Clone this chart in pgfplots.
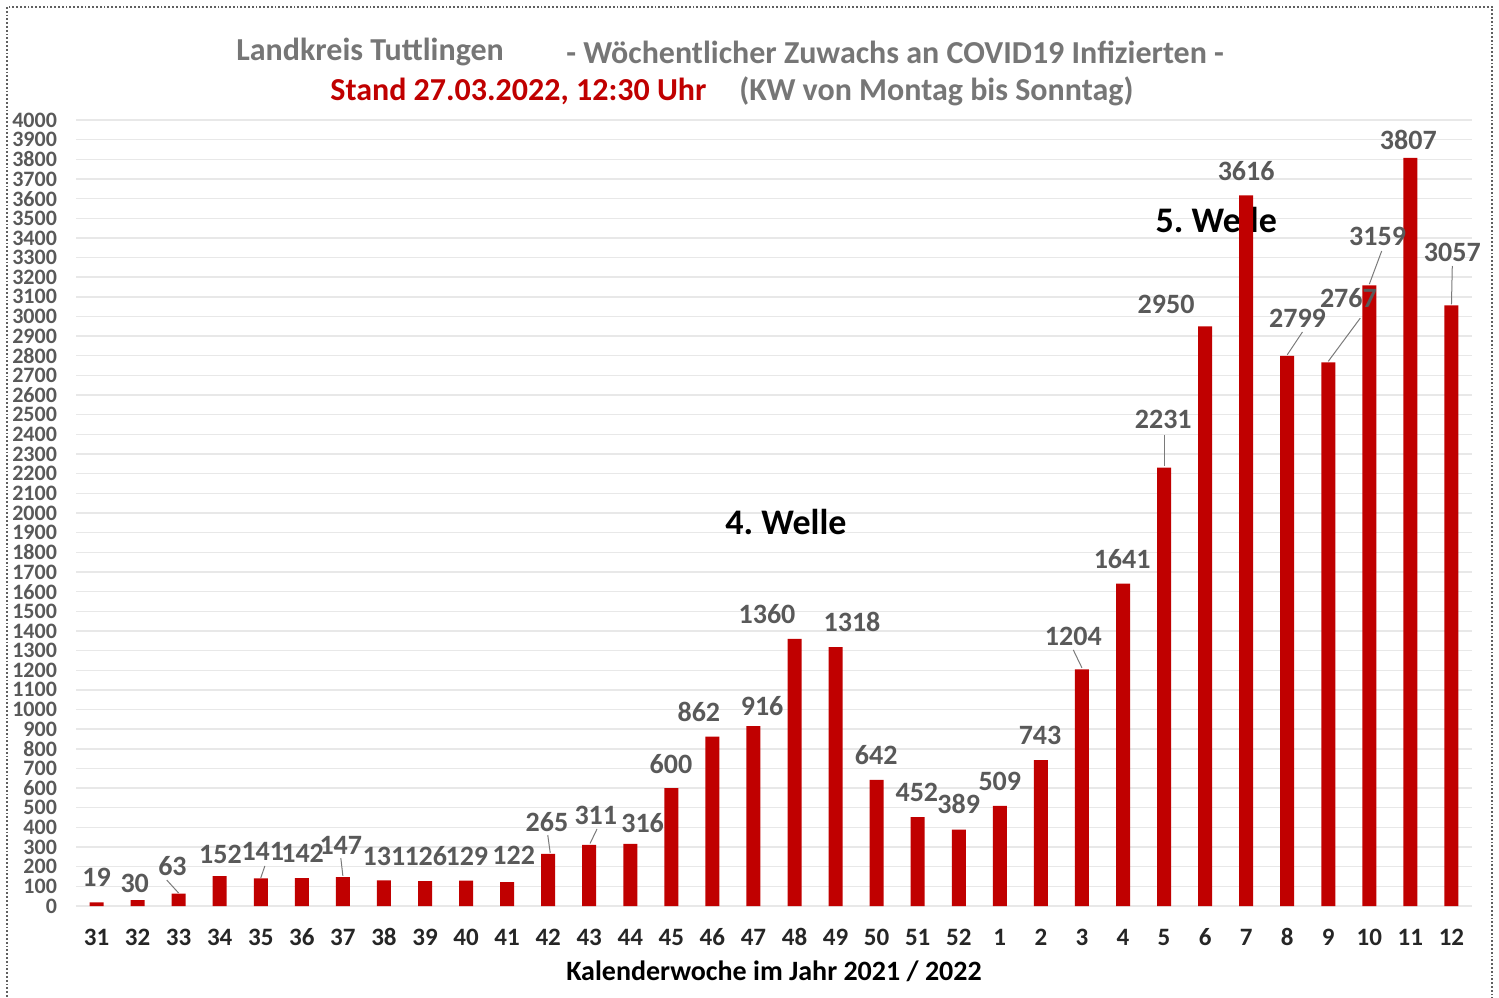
\documentclass[border=0pt]{standalone}
\usepackage{pgfplots}
\pgfplotsset{compat=1.18}
\usepackage{pgfplotstable}
\usepackage{fontspec}
\setmainfont{Carlito}
\definecolor{barred}{HTML}{C00000}
\definecolor{lblgray}{HTML}{595959}
\definecolor{ttlgray}{HTML}{767676}
\definecolor{gridgray}{HTML}{E8E8E8}
\definecolor{framegray}{HTML}{606060}

\pgfplotstableread{
idx value
0 19
1 30
2 63
3 152
4 141
5 142
6 147
7 131
8 126
9 129
10 122
11 265
12 311
13 316
14 600
15 862
16 916
17 1360
18 1318
19 642
20 452
21 389
22 509
23 743
24 1204
25 1641
26 2231
27 2950
28 3616
29 2799
30 2767
31 3159
32 3807
33 3057
}\weekdata

\begin{document}
\begin{tikzpicture}
\useasboundingbox (-38pt,-45.5pt) rectangle (711.5pt,453pt);
\draw[framegray, line width=0.9pt, densely dotted] (-34.5pt,449.5pt) rectangle (708pt,-60pt);
\begin{axis}[
  at={(0pt,0pt)}, anchor=south west,
  scale only axis, width=698pt, height=393pt,
  xmin=-0.5, xmax=33.5, ymin=0, ymax=4000,
  ytick={0,100,...,4000},
  xtick={0,1,...,33},
  xticklabels={31,32,33,34,35,36,37,38,39,40,41,42,43,44,45,46,47,48,49,50,51,52,1,2,3,4,5,6,7,8,9,10,11,12},
  ymajorgrids, grid style={gridgray, line width=0.7pt},
  axis lines*=left,
  x axis line style={gridgray, line width=0.8pt},
  y axis line style={draw=none},
  major tick length=0pt,
  yticklabel style={font=\fontsize{11}{11}\selectfont\bfseries, text=lblgray, xshift=-6pt},
  xticklabel style={font=\fontsize{12.5}{12.5}\selectfont\bfseries, text=black!85, anchor=north, text height=9pt, text depth=0pt, yshift=-7pt},
  /pgf/number format/assume math mode=true,
  /pgf/number format/1000 sep={},
  ybar, bar width=7pt,
  clip=false,
]
\node[font=\fontsize{18}{18}\selectfont\bfseries, text=black] at (axis cs:16.79,1954) {4.~Welle};
\node[font=\fontsize{18}{18}\selectfont\bfseries, text=black] at (axis cs:27.27,3491) {5.~Welle};
\addplot[fill=barred, draw=none] table[x=idx, y=value] {\weekdata};
% leader lines
\draw[lblgray!80, line width=0.5pt] (axis cs:1.71,132) -- (axis cs:2.0,66);
\draw[lblgray!80, line width=0.5pt] (axis cs:4.1,204) -- (axis cs:4.0,143);
\draw[lblgray!80, line width=0.5pt] (axis cs:5.95,244) -- (axis cs:6.0,153);
\draw[lblgray!80, line width=0.5pt] (axis cs:10.99,361) -- (axis cs:11.05,270);
\draw[lblgray!80, line width=0.5pt] (axis cs:12.19,392) -- (axis cs:12.02,318);
\draw[lblgray!80, line width=0.5pt] (axis cs:23.79,1303) -- (axis cs:24.0,1212);
\draw[lblgray!80, line width=0.5pt] (axis cs:26.0,2397) -- (axis cs:26.0,2238);
\draw[lblgray!80, line width=0.5pt] (axis cs:29.37,2921) -- (axis cs:29.0,2805);
\draw[lblgray!80, line width=0.5pt] (axis cs:30.78,2992) -- (axis cs:30.0,2772);
\draw[lblgray!80, line width=0.5pt] (axis cs:31.3,3333) -- (axis cs:31.0,3165);
\draw[lblgray!80, line width=0.5pt] (axis cs:33.02,3257) -- (axis cs:33.0,3062);
% data labels
\tikzset{dl/.style={font=\fontsize{14}{14}\selectfont\bfseries, text=lblgray, inner sep=0pt}}
\node[dl] at (axis cs:0,148) {19};
\node[dl] at (axis cs:0.93,117) {30};
\node[dl] at (axis cs:1.85,204) {63};
\node[dl] at (axis cs:3.02,260) {152};
\node[dl] at (axis cs:4.05,280) {141};
\node[dl] at (axis cs:5.02,270) {142};
\node[dl] at (axis cs:5.95,310) {147};
\node[dl] at (axis cs:7.0,254) {131};
\node[dl] at (axis cs:8.02,254) {126};
\node[dl] at (axis cs:9.02,254) {129};
\node[dl] at (axis cs:10.16,260) {122};
\node[dl] at (axis cs:10.97,427) {265};
\node[dl] at (axis cs:12.16,463) {311};
\node[dl] at (axis cs:13.3,422) {316};
\node[dl] at (axis cs:13.99,723) {600};
\node[dl] at (axis cs:14.67,987) {862};
\node[dl] at (axis cs:16.21,1018) {916};
\node[dl] at (axis cs:16.33,1486) {1360};
\node[dl] at (axis cs:18.4,1445) {1318};
\node[dl] at (axis cs:18.99,768) {642};
\node[dl] at (axis cs:19.98,580) {452};
\node[dl] at (axis cs:21.0,519) {389};
\node[dl] at (axis cs:22.0,636) {509};
\node[dl] at (axis cs:22.98,870) {743};
\node[dl] at (axis cs:23.79,1374) {1204};
\node[dl] at (axis cs:24.98,1766) {1641};
\node[dl] at (axis cs:25.98,2478) {2231};
\node[dl] at (axis cs:26.05,3059) {2950};
\node[dl] at (axis cs:28.0,3740) {3616};
\node[dl] at (axis cs:29.25,2992) {2799};
\node[dl] at (axis cs:30.49,3094) {2767};
\node[dl] at (axis cs:31.2,3410) {3159};
\node[dl] at (axis cs:31.95,3898) {3807};
\node[dl] at (axis cs:33.02,3328) {3057};
\end{axis}
% titles: X=(px-76)*0.5pt, Y=(906-py)*0.5pt
\tikzset{tt/.style={anchor=west, font=\fontsize{16}{16}\selectfont\bfseries, inner sep=0pt}}
\node[tt, text=ttlgray] at (80pt,427pt) {Landkreis Tuttlingen};
\node[tt, text=ttlgray] at (245pt,427pt) {- Wöchentlicher Zuwachs an COVID19 Infizierten -};
\node[tt, text=barred] at (127pt,407.5pt) {Stand 27.03.2022, 12:30 Uhr};
\node[tt, text=ttlgray] at (331.5pt,407.5pt) {(KW von Montag bis Sonntag)};
\node[font=\fontsize{14}{14}\selectfont\bfseries, text=black, inner sep=0pt] at (349pt,-32.5pt) {Kalenderwoche im Jahr 2021 / 2022};
\end{tikzpicture}
\end{document}
